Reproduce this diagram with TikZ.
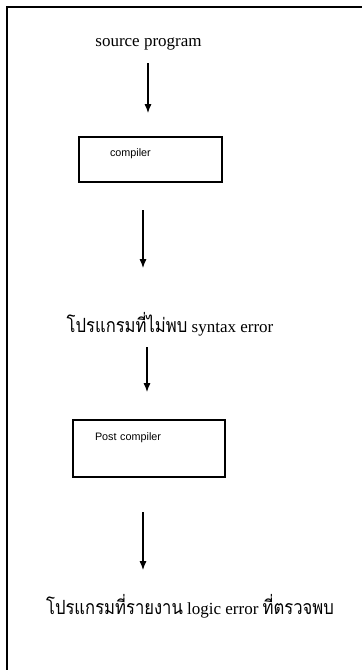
\documentclass[tikz,border=0pt]{standalone}
\usepackage{fontspec}
\setmainfont{Liberation Serif}
\newfontfamily\thaifont[Script=Thai,FakeStretch=0.85,Scale=1.15]{Loma}
\newfontfamily\boxfont{Liberation Sans}
\usetikzlibrary{arrows.meta}

\begin{document}
\begin{tikzpicture}[
        x=0.5pt, y=-0.5pt,
        frame/.style={line width=0.8pt},
        flow/.style={line width=0.6pt, -{Latex[length=4.5pt,width=3.6pt]}},
        caption/.style={inner sep=0pt, font=\fontsize{8.5}{10}\selectfont},
        stage/.style={draw, line width=0.75pt, inner ysep=0pt, align=left,
            font=\boxfont\fontsize{5.4}{6.5}\selectfont},
    ]

    \useasboundingbox (0,0) rectangle (362,670);

    % the page frame, cut off at the right and below
    \draw[frame] (7,670) -- (7,7) -- (362,7);

    \node[caption] (src) at (148.5,44) {source program};

    \node[stage, inner xsep=15.5pt, text width=40.5pt,
          text height=9.5pt, text depth=13pt] (comp) at (150.5,159.5) {compiler};

    \node[caption] (clean) at (170,324)
        {{\thaifont โปรแกรมที่ไม่พบ} syntax error};

    \node[stage, inner xsep=11pt, text width=54pt,
          text height=10pt, text depth=18.5pt] (post) at (149,448.5) {Post compiler};

    \node[caption] (report) at (190,606)
        {{\thaifont โปรแกรมที่รายงาน} logic error {\thaifont ที่ตรวจพบ}};

    \draw[flow, shorten <=9.5pt, shorten >=23.25pt]
        (src.center -| 148,0) -- (comp.center -| 148,0);
    \draw[flow, shorten <=25.25pt, shorten >=28pt]
        (comp.center -| 143,0) -- (clean.center -| 143,0);
    \draw[flow, shorten <=11.5pt, shorten >=28.25pt]
        (clean.center -| 147,0) -- (post.center -| 147,0);
    \draw[flow, shorten <=31.75pt, shorten >=18pt]
        (post.center -| 143,0) -- (report.center -| 143,0);

\end{tikzpicture}
\end{document}
